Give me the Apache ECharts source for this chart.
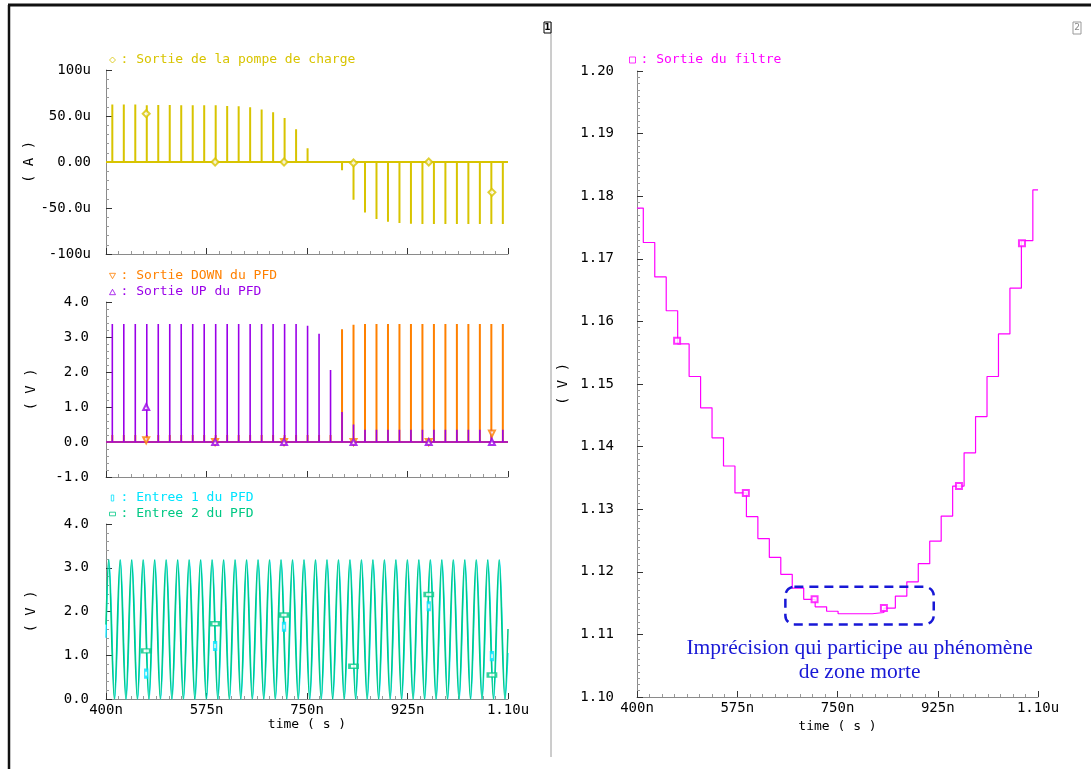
<!DOCTYPE html>
<html><head><meta charset="utf-8">
<script src="https://cdn.jsdelivr.net/npm/echarts@6/dist/echarts.min.js"></script>
<style>html,body{margin:0;padding:0;background:#fff}#c{width:1091px;height:769px}</style>
</head><body><div id="c"></div>
<script>
// ---------- data ----------
const pulseTimes = [411,431,451,471,491,511,531,551,571,591,611,631,651,671,691,711,731,751,771,791,
  811,831,851,871,891,911,931,951,971,991,1011,1031,1051,1071,1091];
const chargePumpUA = [62.4,62.4,62.4,61.6,62,62,61.6,61.6,61.6,61.6,
  60.9,60.5,59.4,57.2,54,47.8,35.5,14.9,1,0,
  -9,-41,-55,-62,-65,-66.3,-67,-67.4,-67.4,-67.4,
  -67.4,-67.4,-67.4,-67.4,-67.4];
const upVolts = [3.37,3.37,3.37,3.37,3.37,3.37,3.37,3.37,3.37,3.37,
  3.37,3.37,3.37,3.37,3.37,3.37,3.37,3.32,3.09,2.06,
  0.86,0.5,0.35,0.35,0.35,0.35,0.35,0.35,0.35,0.35,
  0.35,0.35,0.35,0.35,0.35];
const downVolts = [0.2,0.2,0.2,0.2,0.2,0.2,0.2,0.2,0.2,0.2,
  0.2,0.2,0.2,0.2,0.2,0.2,0.2,0.2,0.2,0.2,
  3.22,3.35,3.37,3.37,3.37,3.37,3.37,3.37,3.37,3.37,
  3.37,3.37,3.37,3.37,3.37];
const entree2Times = [400,
  404.5,414.5,424.5,434.5,444.5,454.5,464.5,474.5,484.5,494.5,
  504.5,514.5,524.5,534.5,544.5,554.5,564.5,574.5,584.5,594.5,
  604.5,614.5,624.5,634.5,644.5,654.5,664.5,674.5,684.5,694.5,
  704.5,714.5,724.5,734.5,744.5,754.5,764.5,774.5,784.5,794.5,
  804.5,814.5,824.5,834.5,844.5,854.5,864.5,874.5,884.5,894.5,
  904.5,914.5,924.5,934.5,944.5,954.5,964.5,974.5,984.5,994.5,
  1004.5,1014.5,1024.5,1034.5,1044.5,1054.5,1064.5,1074.5,1084.5,1094.5,
  1100];
const entree2Volts = [1.7,
  3.18,0,3.18,0,3.18,0,3.18,0,3.18,0,
  3.18,0,3.18,0,3.18,0,3.18,0,3.18,0,
  3.18,0,3.18,0,3.18,0,3.18,0,3.18,0,
  3.18,0,3.18,0,3.18,0,3.18,0,3.18,0,
  3.18,0,3.18,0,3.18,0,3.18,0,3.18,0,
  3.18,0,3.18,0,3.18,0,3.18,0,3.18,0,
  3.18,0,3.18,0,3.18,0,3.18,0,3.18,0,
  1.6];
const entree1Times = [400,
  405.3,415.3,425.3,435.3,445.3,455.3,465.3,475.3,485.3,495.3,
  505.3,515.3,525.3,535.3,545.3,555.3,565.3,575.3,585.3,595.3,
  605.3,615.3,625.3,635.3,645.3,655.3,665.3,675.3,685.3,695.3,
  705.3,715.3,725.3,735.3,745.3,755.3,765.3,775.3,785.3,795.3,
  805.3,815.3,825.3,835.3,845.3,855.3,865.3,875.3,885.3,895.3,
  905.3,915.3,925.3,935.3,945.3,955.3,965.3,975.3,985.3,995.3,
  1005.3,1015.3,1025.3,1035.3,1045.3,1055.3,1065.3,1075.3,1085.3,1095.3,
  1100];
const entree1Volts = [1.4,
  3.18,0,3.18,0,3.18,0,3.18,0,3.18,0,
  3.18,0,3.18,0,3.18,0,3.18,0,3.18,0,
  3.18,0,3.18,0,3.18,0,3.18,0,3.18,0,
  3.18,0,3.18,0,3.18,0,3.18,0,3.18,0,
  3.18,0,3.18,0,3.18,0,3.18,0,3.18,0,
  3.18,0,3.18,0,3.18,0,3.18,0,3.18,0,
  3.18,0,3.18,0,3.18,0,3.18,0,3.18,0,
  1.05];
const filterStartVolt = 1.1781;
const filterVolts = [1.1726,1.1671,1.1617,1.1564,1.1512,1.1462,1.1414,1.1369,1.1326,1.1288,
  1.1253,1.1223,1.1196,1.1174,1.1156,1.1144,1.1137,1.1133,1.1133,1.1133,
  1.1135,1.1142,1.1161,1.1184,1.1213,1.1249,1.1289,1.1337,1.1390,1.1448,
  1.1512,1.1580,1.1653,1.1729,1.1810];

const markerTimes = [470,590,710,831,962,1072];
const cpMarkerUA = [52.5,0,0,-1,0,-33];
const downMarkerV = [0.05,0,0,0,0,0.24];
const upMarkerV = [1.0,0,0,0,0,0];
const entree2MarkerV = [1.10,1.72,1.92,0.75,2.39,0.55];
const entree1MarkerTimes = [470,590,710,962,1072];
const entree1MarkerV = [0.58,1.21,1.65,2.12,0.98];
const filterMarkerV = [1.1569,1.1326,1.1156,1.1142,1.1337,1.1725];

const timeTickValues = [400,575,750,925,1100];
const timeTickLabels = ['400n','575n','750n','925n','1.10u'];
const icpTickValues = [-100,-50,0,50,100];
const icpTickLabels = ['-100u','-50.0u','0.00','50.0u','100u'];
const zoneTimes = [659,918];
const zoneVolts = [1.1116,1.1176];
const annotationLines = ['Imprécision qui participe au phénomène','de zone morte'];

// ---------- styles ----------
const YELLOW='#d8c400', ORANGE='#ff8000', PURPLE='#9a00e8', CYAN='#00e4ff', GREEN='#00c884', MAGENTA='#ff00ff', BLUE='#1818d6';
const MONO='DejaVu Sans Mono';

// ---------- build ----------
function spikes(vals, base){
  const d=[[400,base]];
  pulseTimes.forEach((t,i)=>{d.push([t,base],[t,vals[i]],[t,base]);});
  d.push([1100,base]);
  return d;
}
const zip=(a,b)=>a.map((v,i)=>[v,b[i]]);
const filterData=[[400,filterStartVolt]].concat(zip(pulseTimes,filterVolts)).concat([[1100,filterVolts[filterVolts.length-1]]]);

const minorTimes=[];
for(let i=0;i<timeTickValues.length-1;i++){
  const a=timeTickValues[i], b=timeTickValues[i+1];
  for(let k=1;k<8;k++) minorTimes.push(a+(b-a)*k/8);
}

const grids=[
  {left:106,top:70,width:402,height:184},
  {left:106,top:302,width:402,height:175},
  {left:106,top:524,width:402,height:175},
  {left:637,top:71,width:401,height:626}
].map(g=>Object.assign(g,{outerBoundsMode:'none',containLabel:false}));

const xAxes=[];
grids.forEach((g,gi)=>{
  const showLab = gi>=2;
  xAxes.push({
    type:'value', gridIndex:gi, min:400, max:1100, position:'bottom',
    axisLine:{show:true,onZero:false,lineStyle:{color:'#8a8a8a',width:1}},
    axisTick:{show:true,inside:true,length:6,customValues:timeTickValues,lineStyle:{color:'#333'}},
    axisLabel:{show:showLab,customValues:timeTickValues,margin:4,color:'#000',fontFamily:MONO,fontSize:14,
      formatter:v=>{const i=timeTickValues.indexOf(v);return i>=0?timeTickLabels[i]:'';}},
    splitLine:{show:false},
    name: showLab?'time ( s )':'', nameLocation:'middle', nameGap:15,
    nameTextStyle:{color:'#000',fontFamily:MONO,fontSize:13}
  });
  xAxes.push({
    type:'value', gridIndex:gi, min:400, max:1100, position:'bottom',
    axisLine:{show:false,onZero:false},
    axisTick:{show:true,inside:true,length:3,customValues:minorTimes,lineStyle:{color:'#999'}},
    axisLabel:{show:false}, splitLine:{show:false}
  });
});

function yAx(gi,min,max,interval,splitN,fmt,name,gap){
  return {type:'value',gridIndex:gi,min:min,max:max,interval:interval,
    axisLine:{show:true,onZero:false,lineStyle:{color:'#8a8a8a'}},
    axisTick:{show:true,inside:true,length:6,lineStyle:{color:'#333'}},
    minorTick:{show:true,splitNumber:splitN,length:3,lineStyle:{color:'#999'}},
    splitLine:{show:false},
    axisLabel:{color:'#000',fontFamily:MONO,fontSize:14,margin:gap,formatter:fmt},
    name:name,nameLocation:'middle',nameRotate:90,nameGap:gi===3?67:68,
    nameTextStyle:{color:'#000',fontFamily:MONO,fontSize:14}};
}
const yAxes=[
  yAx(0,-100,100,50,5,v=>{const i=icpTickValues.indexOf(Math.round(v));return i>=0?icpTickLabels[i]:'';},'( A )',15),
  yAx(1,-1,4,1,5,v=>v.toFixed(1),'( V )',17),
  yAx(2,0,4,1,5,v=>v.toFixed(1),'( V )',17),
  yAx(3,1.10,1.20,0.01,10,v=>v.toFixed(2),'( V )',23)
];

function lineS(name,xi,yi,data,color,w,extra){
  return Object.assign({type:'line',name:name,xAxisIndex:xi,yAxisIndex:yi,data:data,showSymbol:false,
    lineStyle:{color:color,width:w},itemStyle:{color:color},silent:true,z:2},extra||{});
}
function markS(name,xi,yi,data,color,symbol,size,rot){
  return {type:'scatter',name:name,xAxisIndex:xi,yAxisIndex:yi,data:data,symbol:symbol,symbolSize:size,
    symbolRotate:rot||0,itemStyle:{color:color,borderColor:color,borderWidth:1.2},silent:true,z:4};
}

const series=[
  lineS('cp',0,0,spikes(chargePumpUA,0),YELLOW,2),
  markS('Sortie de la pompe de charge',0,0,zip(markerTimes,cpMarkerUA),YELLOW,'emptyDiamond',7),
  lineS('down',2,1,spikes(downVolts,0),ORANGE,2),
  lineS('up',2,1,spikes(upVolts,0),PURPLE,1.6),
  markS('Sortie DOWN du PFD',2,1,zip(markerTimes,downMarkerV),ORANGE,'emptyTriangle',6,180),
  markS('Sortie UP du PFD',2,1,zip(markerTimes,upMarkerV),PURPLE,'emptyTriangle',6),
  lineS('e1',4,2,zip(entree1Times,entree1Volts),CYAN,1.3,{smooth:0.36}),
  lineS('e2',4,2,zip(entree2Times,entree2Volts),GREEN,1.5,{smooth:0.36}),
  markS('Entree 1 du PFD',4,2,zip(entree1MarkerTimes,entree1MarkerV),CYAN,'emptyRect',[3,7]),
  markS('Entree 2 du PFD',4,2,zip(markerTimes,entree2MarkerV),GREEN,'emptyRect',[8,4]),
  lineS('filtre',6,3,filterData,MAGENTA,1.2,{step:'end'}),
  markS('Sortie du filtre',6,3,zip(markerTimes,filterMarkerV),MAGENTA,'emptyRect',6)
];

const ICON={
  diamond:'path://M5,0L10,5L5,10L0,5Z',
  up:'path://M5,0L10,9L0,9Z',
  down:'path://M0,0L10,0L5,9Z',
  rectV:'path://M3,0L7,0L7,10L3,10Z',
  rectH:'path://M0,2L10,2L10,8L0,8Z',
  rect:'path://M0,0L10,0L10,10L0,10Z'
};
function leg(left,top,items){
  return {left:left,top:top,orient:'vertical',padding:0,itemGap:0,itemWidth:6,itemHeight:6,selectedMode:false,
    formatter:': {name}',textStyle:{fontFamily:MONO,fontSize:13,lineHeight:16},
    data:items.map(it=>({name:it[0],icon:ICON[it[1]],textStyle:{color:it[2]},
      itemStyle:{color:'#fff',borderColor:it[2],borderWidth:1}}))};
}
const legends=[
  leg(109,52,[['Sortie de la pompe de charge','diamond',YELLOW]]),
  leg(109,268,[['Sortie DOWN du PFD','down',ORANGE],['Sortie UP du PFD','up',PURPLE]]),
  leg(109,490,[['Entree 1 du PFD','rectV',CYAN],['Entree 2 du PFD','rectH',GREEN]]),
  leg(629,52,[['Sortie du filtre','rect',MAGENTA]])
];

const frame=[
  {type:'line',shape:{x1:8,y1:5,x2:1091,y2:5},style:{stroke:'#111',lineWidth:3}},
  {type:'line',shape:{x1:9,y1:5,x2:9,y2:769},style:{stroke:'#111',lineWidth:2.5}},
  {type:'line',shape:{x1:551,y1:22,x2:551,y2:757},style:{stroke:'#9a9a9a',lineWidth:1}},
  {type:'rect',shape:{x:544,y:22,width:7,height:11},style:{fill:'#fff',stroke:'#000',lineWidth:1}},
  {type:'text',x:547.5,y:28,style:{text:'1',font:'bold 9px DejaVu Sans',fill:'#000',align:'center',verticalAlign:'middle'}},
  {type:'rect',shape:{x:1073,y:22,width:8,height:12},style:{fill:'#fff',stroke:'#999',lineWidth:1}},
  {type:'text',x:1077,y:28,style:{text:'2',font:'9px DejaVu Sans',fill:'#888',align:'center',verticalAlign:'middle'}}
];

const chart=echarts.init(document.getElementById('c'),null,{renderer:'canvas'});
chart.setOption({animation:false,backgroundColor:'#fff',grid:grids,xAxis:xAxes,yAxis:yAxes,series:series,legend:legends,graphic:frame});

const p0=chart.convertToPixel({gridIndex:3},[zoneTimes[0],zoneVolts[1]]);
const p1=chart.convertToPixel({gridIndex:3},[zoneTimes[1],zoneVolts[0]]);
const cx=(p0[0]+p1[0])/2;
chart.setOption({graphic:frame.concat([
  {type:'rect',shape:{x:p0[0],y:p0[1],width:p1[0]-p0[0],height:p1[1]-p0[1],r:9},
   style:{fill:'none',stroke:BLUE,lineWidth:2.5,lineDash:[9,6]},z:10},
  {type:'text',x:cx,y:p1[1]+24,style:{text:annotationLines[0],font:"21.5px 'Liberation Serif'",fill:BLUE,align:'center',verticalAlign:'middle'},z:10},
  {type:'text',x:cx,y:p1[1]+48,style:{text:annotationLines[1],font:"21.5px 'Liberation Serif'",fill:BLUE,align:'center',verticalAlign:'middle'},z:10}
])});
</script></body></html>
